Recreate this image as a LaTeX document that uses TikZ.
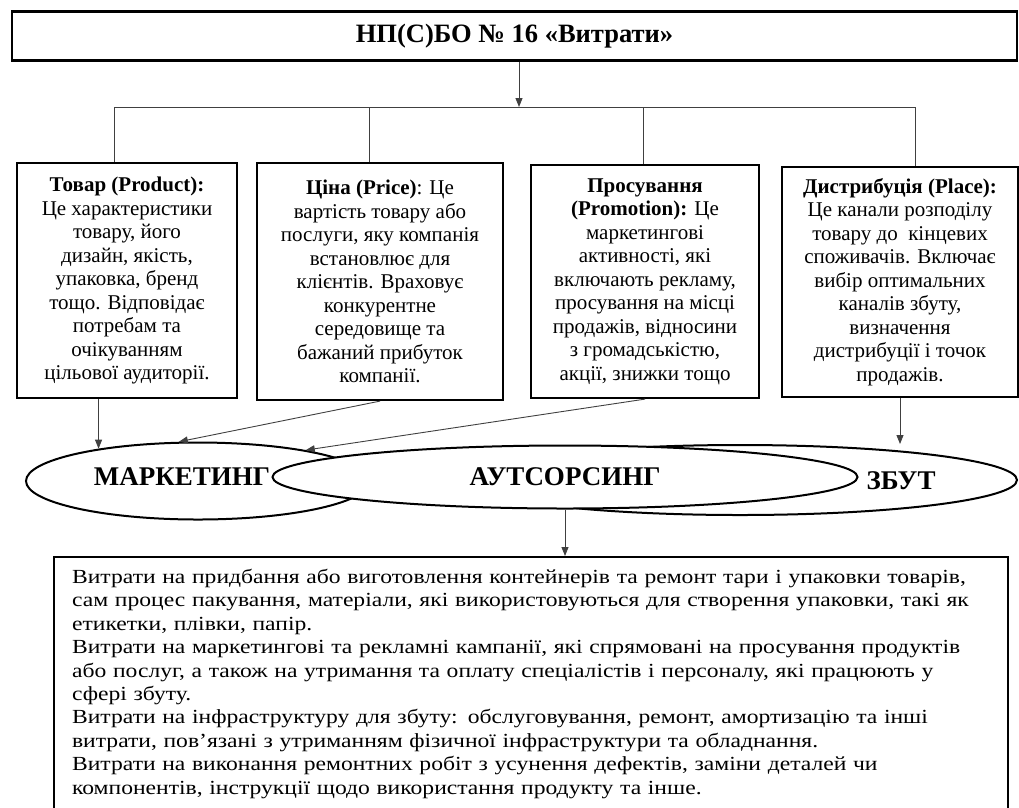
\documentclass[tikz,border=0pt]{standalone}
\usepackage{fontspec}
\setmainfont{Liberation Serif}
\newfontfamily\widefont[FakeStretch=1.18]{Liberation Serif}
\usetikzlibrary{shapes.geometric,arrows.meta}
\begin{document}
\begin{tikzpicture}[x=1pt,y=-1pt,
  conn/.style={line width=0.9pt, draw=black!75},
  arr/.style={conn, -{Triangle[length=9pt,width=7pt]}},
  infobox/.style={draw, line width=2.2pt, align=center, inner sep=0pt, font=\fontsize{21}{23.5}\selectfont},
  oval/.style={draw, ellipse, line width=2pt, inner sep=0pt, fill=white},
  ovaltext/.style={font=\bfseries\fontsize{27}{30}\selectfont, inner sep=0pt},
]
\useasboundingbox (0,0) rectangle (1019,807);

\node[draw, line width=2.2pt, minimum width=1005pt, minimum height=49pt, inner sep=0pt,
      font=\bfseries\fontsize{26.5}{30}\selectfont] (title) at (514.5,36) {НП(С)БО № 16 «Витрати»};

\node[infobox, minimum width=220pt, minimum height=235pt] (b1) at (127,280.5)
  {\textbf{Товар (Product):}\\Це характеристики\\товару, його\\дизайн, якість,\\упаковка, бренд\\тощо. Відповідає\\потребам та\\очікуванням\\цільової аудиторії.};
\node[infobox, minimum width=246pt, minimum height=237pt] (b2) at (380,281.5)
  {\textbf{Ціна (Price)}: Це\\вартість товару або\\послуги, яку компанія\\встановлює для\\клієнтів. Враховує\\конкурентне\\середовище та\\бажаний прибуток\\компанії.};
\node[infobox, minimum width=228pt, minimum height=233pt] (b3) at (645,281.5)
  {\textbf{Просування}\\\textbf{(Promotion):} Це\\маркетингові\\активності, які\\включають рекламу,\\просування на місці\\продажів, відносини\\з громадськістю,\\акції, знижки тощо};
\node[infobox, minimum width=236pt, minimum height=230pt] (b4) at (900,282)
  {\textbf{Дистрибуція (Place):}\\Це канали розподілу\\товару до~ кінцевих\\споживачів. Включає\\вибір оптимальних\\каналів збуту,\\визначення\\дистрибуції і точок\\продажів.};

\coordinate (j) at (519,107);
\coordinate (h1) at (114,107);
\coordinate (h2) at (369,107);
\coordinate (h3) at (643,107);
\coordinate (h4) at (915,107);
\draw[arr] (title.south -| j) -- (j);
\draw[conn] (h1) -- (h4);
\draw[conn] (h1) -- (h1 |- b1.north);
\draw[conn] (h2) -- (h2 |- b2.north);
\draw[conn] (h3) -- (h3 |- b3.north);
\draw[conn] (h4) -- (h4 |- b4.north);

\node[oval, minimum width=344pt, minimum height=77pt] (mk) at (198,481) {};
\node[oval, minimum width=554pt, minimum height=70pt] (zb) at (740,480) {};
\node[oval, minimum width=585pt, minimum height=63pt, font=\bfseries\fontsize{27}{30}\selectfont] (out) at (565,477) {АУТСОРСИНГ};
\node[ovaltext] (mkt) at (182,477) {МАРКЕТИНГ};
\node[ovaltext] (zbt) at (901,481) {ЗБУТ};

\draw[arr] (b1.south -| mk.162.3) -- (mk.162.3);
\draw[arr] (b2.south) -- (mk.116.6);
\draw[arr] (b3.south) -- (mk.16.5);
\draw[arr] (b4.south) -- (b4.south |- zb.north);

\node[draw, line width=2.2pt, anchor=north west, inner xsep=18pt, inner ysep=12pt, align=left,
      text width=918pt, font=\widefont\fontsize{20}{23.4}\selectfont] (bot) at (53,556)
  {Витрати на придбання або виготовлення контейнерів та ремонт тари і упаковки товарів,\\
   сам процес пакування, матеріали, які використовуються для створення упаковки, такі як\\
   етикетки, плівки, папір.\\
   Витрати на маркетингові та рекламні кампанії, які спрямовані на просування продуктів\\
   або послуг, а також на утримання та оплату спеціалістів і персоналу, які працюють у\\
   сфері збуту.\\
   Витрати на інфраструктуру для збуту: обслуговування, ремонт, амортизацію та інші\\
   витрати, пов’язані з утриманням фізичної інфраструктури та обладнання.\\
   Витрати на виконання ремонтних робіт з усунення дефектів, заміни деталей чи\\
   компонентів, інструкції щодо використання продукту та інше.};
\draw[arr] (out.south) -- (out.south |- bot.north);
\end{tikzpicture}
\end{document}
